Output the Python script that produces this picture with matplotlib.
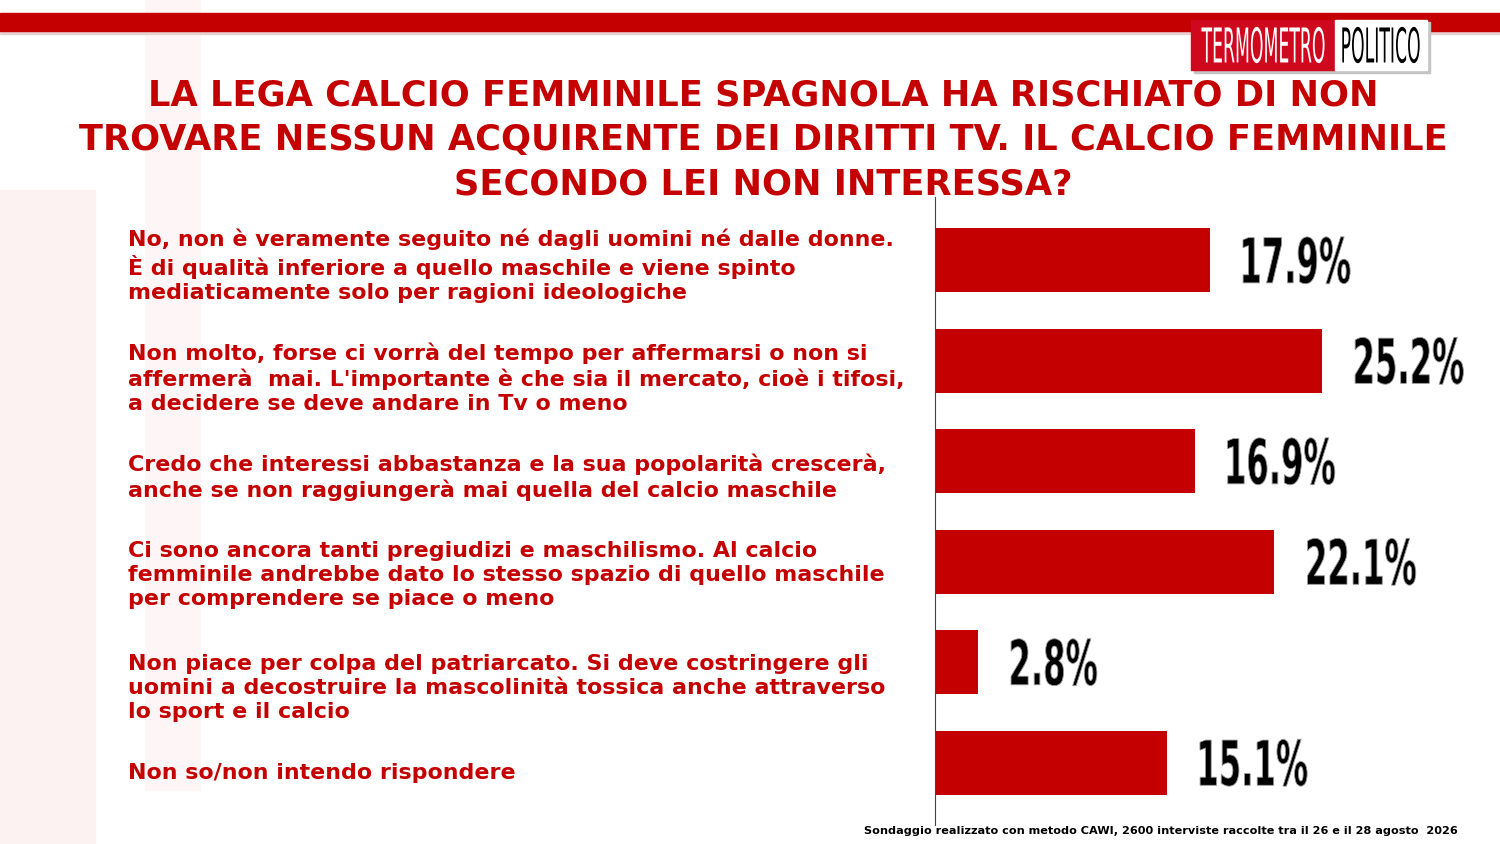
import matplotlib.pyplot as plt
from matplotlib.patches import Rectangle, PathPatch
from matplotlib.textpath import TextPath
from matplotlib.font_manager import FontProperties
from matplotlib.transforms import Affine2D, IdentityTransform

# data
categorie = [
    "No, non è veramente seguito né dagli uomini né dalle donne.\n"
    "È di qualità inferiore a quello maschile e viene spinto\n"
    "mediaticamente solo per ragioni ideologiche",
    "Non molto, forse ci vorrà del tempo per affermarsi o non si\n"
    "affermerà  mai. L'importante è che sia il mercato, cioè i tifosi,\n"
    "a decidere se deve andare in Tv o meno",
    "Credo che interessi abbastanza e la sua popolarità crescerà,\n"
    "anche se non raggiungerà mai quella del calcio maschile",
    "Ci sono ancora tanti pregiudizi e maschilismo. Al calcio\n"
    "femminile andrebbe dato lo stesso spazio di quello maschile\n"
    "per comprendere se piace o meno",
    "Non piace per colpa del patriarcato. Si deve costringere gli\n"
    "uomini a decostruire la mascolinità tossica anche attraverso\n"
    "lo sport e il calcio",
    "Non so/non intendo rispondere",
]
valori = [17.9, 25.2, 16.9, 22.1, 2.8, 15.1]
etichette = ["17.9%", "25.2%", "16.9%", "22.1%", "2.8%", "15.1%"]

titolo = ("LA LEGA CALCIO FEMMINILE SPAGNOLA HA RISCHIATO DI NON\n"
          "TROVARE NESSUN ACQUIRENTE DEI DIRITTI TV. IL CALCIO FEMMINILE\n"
          "SECONDO LEI NON INTERESSA?")
nota = ("Sondaggio realizzato con metodo CAWI, 2600 interviste raccolte "
        "tra il 26 e il 28 agosto  2026")

ROSSO = '#c40000'
W, H = 1500, 844

def fy(px):
    return 1 - px / H

def fx(px):
    return px / W

def narrow_text(fig, s, x, y, size, sx, color, weight='bold', ha='left', edge=None):
    '''Draw condensed text as a path, x/y in display pixels (y from bottom), centred vertically.'''
    tp = TextPath((0, 0), s, size=size,
                  prop=FontProperties(family='DejaVu Sans', weight=weight))
    bb = tp.get_extents()
    w = bb.width * sx
    x0 = x - bb.x0 * sx
    if ha == 'center':
        x0 -= w / 2
    tr = Affine2D().scale(sx, 1).translate(x0, y - (bb.y0 + bb.height / 2)) + IdentityTransform()
    patch = PathPatch(tp, transform=tr, facecolor=color,
                      edgecolor=edge if edge else 'none', lw=0.6, zorder=6)
    fig.patches.append(patch)

fig = plt.figure(figsize=(15, 8.44), dpi=100)
fig.patch.set_facecolor('white')

# faint watermark shapes
fig.patches.append(Rectangle((0, 0), fx(95), fy(190), transform=fig.transFigure,
                             color='#fdf2f2', zorder=0))
fig.patches.append(Rectangle((fx(145), fy(790)), fx(55), fy(0) - fy(790),
                             transform=fig.transFigure, color='#fef6f6', zorder=0))

# top red band
fig.patches.append(Rectangle((0, fy(34)), 1, fy(30) - fy(34), transform=fig.transFigure,
                             color='#e6d0d0', zorder=1))
fig.patches.append(Rectangle((0, fy(31)), 1, fy(13) - fy(31), transform=fig.transFigure,
                             color=ROSSO, zorder=2))

# logo
fig.patches.append(Rectangle((fx(1194), fy(73)), fx(236), fy(22) - fy(73),
                             transform=fig.transFigure, color='#c4c4c4', zorder=3))
fig.patches.append(Rectangle((fx(1191), fy(70)), fx(144), fy(20) - fy(70),
                             transform=fig.transFigure, color='#d0081e', zorder=4))
fig.patches.append(Rectangle((fx(1335), fy(70)), fx(92), fy(20) - fy(70),
                             transform=fig.transFigure, color='white', zorder=4))
narrow_text(fig, "TERMOMETRO", 1263, H - 45, 48, 0.36, 'white', weight='normal', ha='center')
narrow_text(fig, "POLITICO", 1381, H - 45, 48, 0.36, 'black', weight='normal', ha='center')

# title
fig.text(fx(763), fy(140), titolo, color=ROSSO, fontsize=25.4, fontweight='bold',
         family='DejaVu Sans', ha='center', va='center', linespacing=1.4, zorder=5)

# category labels
label_y = [266, 378, 477, 575, 688, 773]
for testo, yy in zip(categorie, label_y):
    fig.text(fx(128), fy(yy), testo, color=ROSSO, fontsize=15.9, fontweight='bold',
             family='DejaVu Sans', ha='left', va='center', linespacing=1.26)

# bars
ax = fig.add_axes([fx(935), fy(825), fx(565), (825 - 197) / H])
ax.set_facecolor('none')
pos = list(range(len(valori)))
ax.barh(pos, valori, height=0.64, color=ROSSO, zorder=2)
ax.set_xlim(0, 565 / 15.36)
ax.set_ylim(5.62, -0.63)
for s in ['top', 'right', 'bottom']:
    ax.spines[s].set_visible(False)
ax.spines['left'].set_color('#444444')
ax.spines['left'].set_linewidth(0.8)
ax.set_xticks([])
ax.set_yticks([])

# value labels, condensed bold
for p, v, t in zip(pos, valori, etichette):
    dx, dy = ax.transData.transform((v + 2.15, p))
    narrow_text(fig, t, dx, dy, 62, 0.52, 'black', edge='#9a9a9a')

# footnote
fig.text(fx(1458), fy(831), nota, color='black', fontsize=8.1, fontweight='bold',
         family='DejaVu Sans', ha='right', va='center')

fig.savefig('out.png', dpi=100)
